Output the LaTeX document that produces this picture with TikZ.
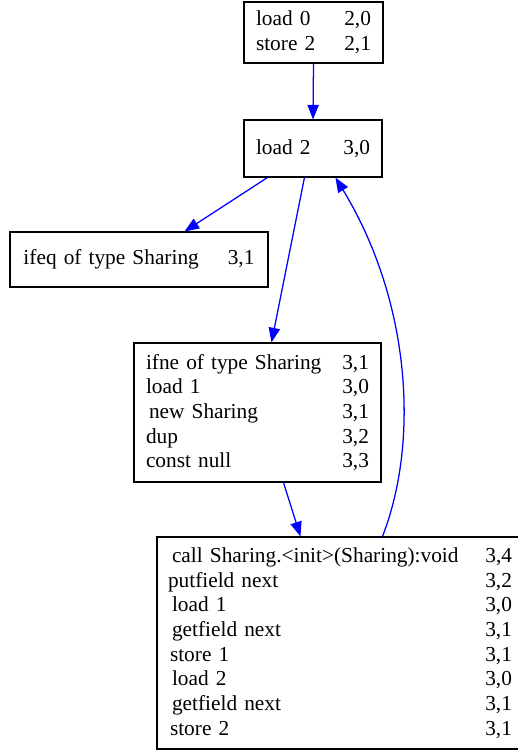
\documentclass[tikz,border=0pt]{standalone}
\usepackage{fontspec}
\setmainfont{Liberation Serif}
\usetikzlibrary{arrows.meta,calc}
\newdimen\pxu \pxu=0.75pt
\begin{document}
\begin{tikzpicture}[x=0.75pt,y=-0.75pt,
  blk/.style={draw=black, line width=0.8pt, inner sep=0pt, align=left,
              font=\fontsize{16}{18.5}\selectfont},
  edge/.style={draw=blue, line width=0.95pt, -{Triangle[length=11pt,width=8.5pt]}}]
\path[use as bounding box, fill=white] (0,0) rectangle (518,751);

\node[blk, minimum width=139\pxu, minimum height=61\pxu, text width=115\pxu] (b1) at (313.5,32.5)
  {load 0\hfill 2,0\\store 2\hfill 2,1};
\node[blk, minimum width=138\pxu, minimum height=57\pxu, text width=114\pxu] (b2) at (313,148.5)
  {load 2\hfill 3,0};
\node[blk, minimum width=258\pxu, minimum height=55\pxu, text width=231\pxu] (b3) at (139,259.5)
  {ifeq of type Sharing\hfill 3,1};
\node[blk, minimum width=247\pxu, minimum height=139\pxu, text width=223\pxu] (b4) at (257.5,412.5)
  {ifne of type Sharing\hfill 3,1\\
   load 1\hfill 3,0\\
   \hspace*{2.25pt}new Sharing\hfill 3,1\\
   dup\hfill 3,2\\
   const null\hfill 3,3};
\node[blk, minimum width=366\pxu, minimum height=212\pxu, text width=344\pxu] (b5) at (340,643)
  {\hspace*{3pt}call Sharing.<init>(Sharing):void\hfill 3,4\\
   putfield next\hfill 3,2\\
   \hspace*{3pt}load 1\hfill 3,0\\
   \hspace*{3pt}getfield next\hfill 3,1\\
   \hspace*{1.5pt}store 1\hfill 3,1\\
   \hspace*{3pt}load 2\hfill 3,0\\
   \hspace*{3pt}getfield next\hfill 3,1\\
   \hspace*{1.5pt}store 2\hfill 3,1};

\draw[edge] (b1.south) -- (b2.north);
\draw[edge] ($(b2.south west)+(24,0)$) -- ($(b3.north west)+(175,0)$);
\draw[edge] ($(b2.south west)+(61,0)$) -- ($(b4.north west)+(138,0)$);
\draw[edge] ($(b4.south west)+(150,0)$) -- ($(b5.north west)+(144,0)$);
\draw[edge] ($(b5.north west)+(226,0)$) .. controls (420,440) and (410,300) .. ($(b2.south west)+(92,0)$);
\end{tikzpicture}
\end{document}
